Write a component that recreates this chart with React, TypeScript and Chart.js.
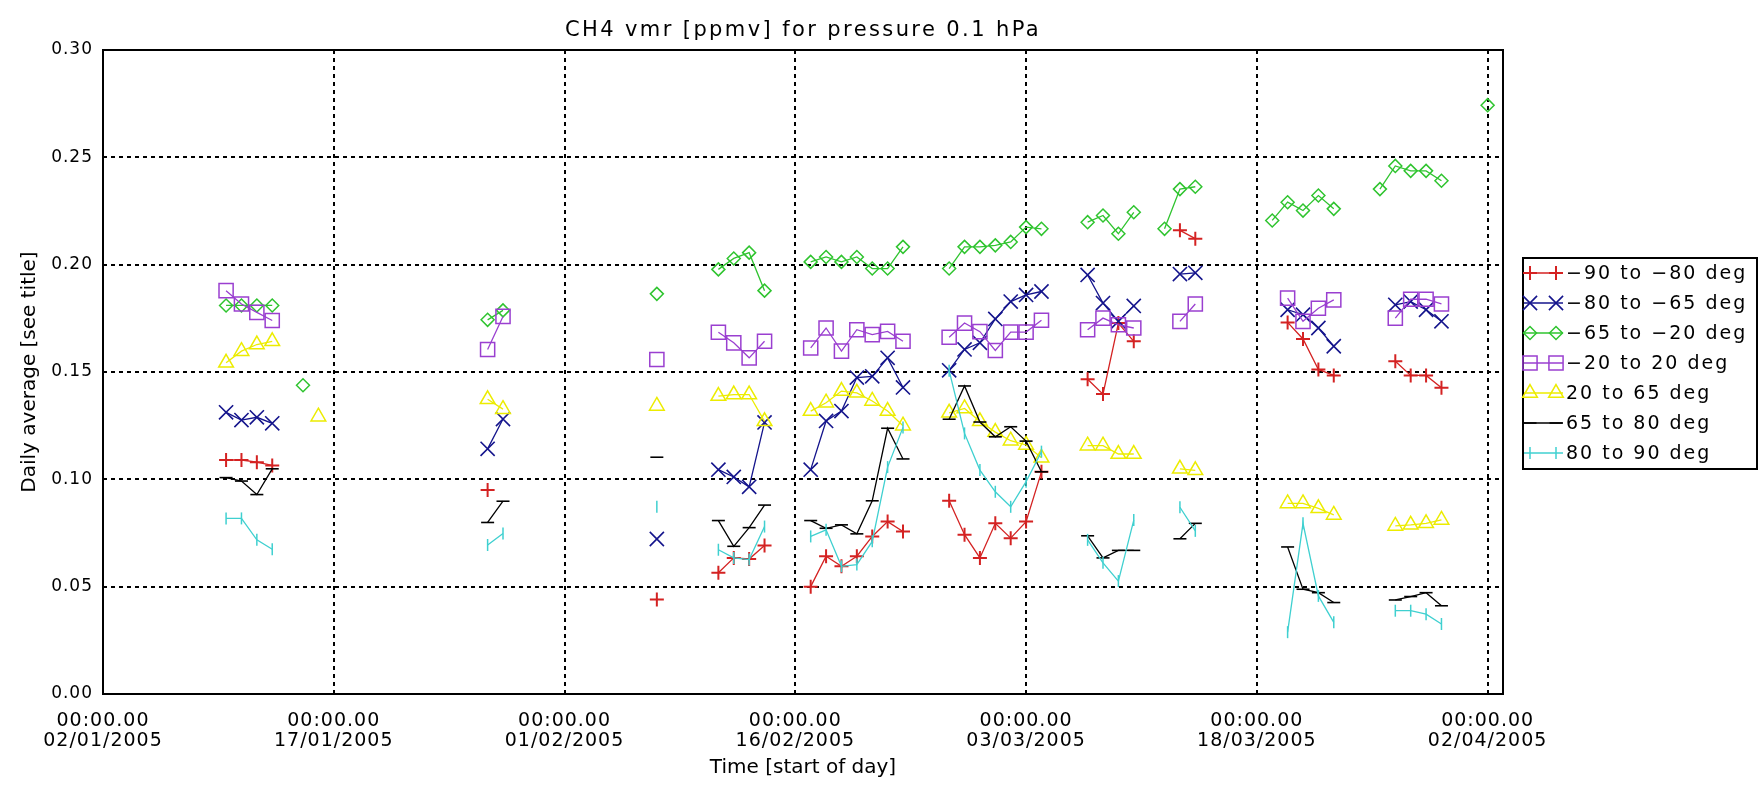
import React, { useEffect, useRef } from 'react';
import { Chart, registerables } from 'chart.js';

Chart.register(...registerables);

const W = 1762;
const H = 787;
const FONT = '"DejaVu Sans", sans-serif';

// ---- axis ticks ----
const xTickDays = [0, 15, 30, 45, 60, 75, 90];
const xTickTime = '00:00.00';
const xTickDates = ['02/01/2005', '17/01/2005', '01/02/2005', '16/02/2005', '03/03/2005', '18/03/2005', '02/04/2005'];
const yTickValues = [0, 0.05, 0.1, 0.15, 0.2, 0.25, 0.3];

const chartTitle = 'CH4 vmr [ppmv] for pressure 0.1 hPa';
const xTitle = 'Time [start of day]';
const yTitle = 'Daily average [see title]';

// ---- series (x = day since 02/01/2005) ----
const redDays = [8, 9, 10, 11, 25, 36, 40, 41, 42, 43, 46, 47, 48, 49, 50, 51, 52, 55, 56, 57, 58, 59, 60, 61, 64, 65, 66, 67, 70, 71, 77, 78, 79, 80, 84, 85, 86, 87];
const redVals = [0.109, 0.109, 0.108, 0.1065, 0.095, 0.044, 0.0565, 0.0634, 0.0629, 0.0692, 0.050, 0.0642, 0.0595, 0.0642, 0.0734, 0.0803, 0.0757, 0.0900, 0.0742, 0.0634, 0.0795, 0.0726, 0.0803, 0.1035, 0.1466, 0.1397, 0.1728, 0.1643, 0.216, 0.2121, 0.1731, 0.1654, 0.1512, 0.1484, 0.155, 0.1484, 0.1484, 0.1427];

const blueDays = [8, 9, 10, 11, 25, 26, 36, 40, 41, 42, 43, 46, 47, 48, 49, 50, 51, 52, 55, 56, 57, 58, 59, 60, 61, 64, 65, 66, 67, 70, 71, 77, 78, 79, 80, 84, 85, 86, 87];
const blueVals = [0.1312, 0.1276, 0.1289, 0.1261, 0.1142, 0.1281, 0.0722, 0.1045, 0.1011, 0.0965, 0.1265, 0.1045, 0.1272, 0.1318, 0.1474, 0.148, 0.1566, 0.1428, 0.1508, 0.1605, 0.1636, 0.1747, 0.1828, 0.1859, 0.1875, 0.1952, 0.1821, 0.1736, 0.1808, 0.1956, 0.1962, 0.179, 0.1767, 0.1705, 0.162, 0.1813, 0.1828, 0.179, 0.1736];

const greenDays = [8, 9, 10, 11, 13, 25, 26, 36, 40, 41, 42, 43, 46, 47, 48, 49, 50, 51, 52, 55, 56, 57, 58, 59, 60, 61, 64, 65, 66, 67, 69, 70, 71, 76, 77, 78, 79, 80, 83, 84, 85, 86, 87, 90];
const greenVals = [0.181, 0.181, 0.181, 0.181, 0.1438, 0.1743, 0.1787, 0.1864, 0.1978, 0.2029, 0.2056, 0.1879, 0.2013, 0.2036, 0.2013, 0.2036, 0.1982, 0.1982, 0.2083, 0.1982, 0.2083, 0.2083, 0.209, 0.2106, 0.2175, 0.2167, 0.2198, 0.2229, 0.2144, 0.2244, 0.2167, 0.2352, 0.2363, 0.2206, 0.2291, 0.2252, 0.2322, 0.226, 0.2352, 0.246, 0.2437, 0.2437, 0.2391, 0.2743];

const purpleDays = [8, 9, 10, 11, 25, 26, 36, 40, 41, 42, 43, 46, 47, 48, 49, 50, 51, 52, 55, 56, 57, 58, 59, 60, 61, 64, 65, 66, 67, 70, 71, 77, 78, 79, 80, 84, 85, 86, 87];
const purpleVals = [0.1879, 0.1817, 0.1778, 0.174, 0.1605, 0.1759, 0.1558, 0.1685, 0.1636, 0.1566, 0.1643, 0.1612, 0.1705, 0.1597, 0.1697, 0.1674, 0.1689, 0.1643, 0.1662, 0.1728, 0.1688, 0.16, 0.1686, 0.1686, 0.1741, 0.1697, 0.1751, 0.172, 0.1705, 0.1736, 0.1817, 0.1844, 0.1736, 0.1797, 0.1836, 0.1751, 0.1839, 0.1839, 0.1817];

const yellowDays = [8, 9, 10, 11, 14, 25, 26, 36, 40, 41, 42, 43, 46, 47, 48, 49, 50, 51, 52, 55, 56, 57, 58, 59, 60, 61, 64, 65, 66, 67, 70, 71, 77, 78, 79, 80, 84, 85, 86, 87];
const yellowVals = [0.1543, 0.1597, 0.1628, 0.1643, 0.1292, 0.1373, 0.1327, 0.1342, 0.1388, 0.1395, 0.1395, 0.127, 0.1318, 0.1357, 0.1411, 0.1403, 0.1365, 0.1318, 0.125, 0.131, 0.133, 0.127, 0.122, 0.118, 0.116, 0.110, 0.1157, 0.1157, 0.1118, 0.1118, 0.1049, 0.1042, 0.0888, 0.0888, 0.0865, 0.0834, 0.0783, 0.0788, 0.0795, 0.0811];

const blackDays = [8, 9, 10, 11, 25, 26, 36, 40, 41, 42, 43, 46, 47, 48, 49, 50, 51, 52, 55, 56, 57, 58, 59, 60, 61, 64, 65, 66, 67, 70, 71, 77, 78, 79, 80, 84, 85, 86, 87];
const blackVals = [0.1008, 0.0992, 0.0929, 0.1049, 0.0799, 0.0898, 0.1103, 0.0808, 0.0688, 0.0775, 0.088, 0.0808, 0.0772, 0.0788, 0.0746, 0.090, 0.1238, 0.1095, 0.128, 0.1435, 0.1267, 0.1198, 0.1245, 0.1178, 0.1035, 0.0737, 0.0634, 0.0669, 0.0669, 0.0723, 0.0795, 0.0685, 0.0488, 0.0472, 0.0426, 0.0438, 0.0454, 0.0472, 0.0411];

const cyanDays = [8, 9, 10, 11, 25, 26, 36, 40, 41, 42, 43, 46, 47, 48, 49, 50, 51, 52, 55, 56, 57, 58, 59, 60, 61, 64, 65, 66, 67, 70, 71, 77, 78, 79, 80, 84, 85, 86, 87];
const cyanVals = [0.0818, 0.0818, 0.0718, 0.0674, 0.0694, 0.0748, 0.0872, 0.0672, 0.0634, 0.0626, 0.078, 0.0734, 0.0765, 0.0595, 0.0603, 0.0711, 0.1057, 0.1242, 0.1506, 0.1214, 0.1043, 0.0942, 0.0872, 0.0989, 0.1129, 0.0718, 0.0611, 0.0526, 0.081, 0.087, 0.076, 0.0288, 0.0795, 0.0457, 0.0334, 0.0388, 0.0388, 0.0372, 0.0326];

const seriesNames = ['\u221290 to \u221280 deg', '\u221280 to \u221265 deg', '\u221265 to \u221220 deg', '\u221220 to 20 deg', '20 to 65 deg', '65 to 80 deg', '80 to 90 deg'];
const seriesDays = [redDays, blueDays, greenDays, purpleDays, yellowDays, blackDays, cyanDays];
const seriesVals = [redVals, blueVals, greenVals, purpleVals, yellowVals, blackVals, cyanVals];

// ---- styles ----
const seriesColors = ['#d42222', '#14148c', '#2fc42f', '#9a3fd0', '#ecec00', '#000000', '#3fd0d0'];
const seriesMarkers = ['cross', 'crossRot', 'rectRot', 'rect', 'triangle', 'line', 'line'];
const markerRadius = [7, 10, 6.5, 10, 8.5, 6.5, 6];
const markerRotation = [0, 0, 0, 0, 0, 0, 90];
const markerWidth = [2, 1.6, 1.5, 1.5, 1.5, 1.6, 1.5];

function toPoints(days: number[], vals: number[]) {
  const pts: { x: number; y: number | null }[] = [];
  days.forEach((d, i) => {
    if (i > 0 && d - days[i - 1] > 1) pts.push({ x: (d + days[i - 1]) / 2, y: null });
    pts.push({ x: d, y: vals[i] });
  });
  return pts;
}

function drawMarker(ctx: CanvasRenderingContext2D, style: string, x: number, y: number, r: number, rot: number) {
  ctx.beginPath();
  const s2 = Math.SQRT1_2 * r;
  if (style === 'cross') {
    ctx.moveTo(x - r, y); ctx.lineTo(x + r, y);
    ctx.moveTo(x, y - r); ctx.lineTo(x, y + r);
  } else if (style === 'crossRot') {
    ctx.moveTo(x - s2, y - s2); ctx.lineTo(x + s2, y + s2);
    ctx.moveTo(x + s2, y - s2); ctx.lineTo(x - s2, y + s2);
  } else if (style === 'rectRot') {
    ctx.moveTo(x - r, y); ctx.lineTo(x, y - r); ctx.lineTo(x + r, y); ctx.lineTo(x, y + r); ctx.closePath();
  } else if (style === 'rect') {
    ctx.rect(x - s2, y - s2, 2 * s2, 2 * s2);
  } else if (style === 'triangle') {
    ctx.moveTo(x, y - r); ctx.lineTo(x + 0.866 * r, y + 0.5 * r); ctx.lineTo(x - 0.866 * r, y + 0.5 * r); ctx.closePath();
  } else if (style === 'line') {
    if (rot === 90) { ctx.moveTo(x, y - r); ctx.lineTo(x, y + r); }
    else { ctx.moveTo(x - r, y); ctx.lineTo(x + r, y); }
  }
  ctx.stroke();
}

const decorPlugin = {
  id: 'idlDecor',
  beforeDraw(chart: any) {
    const ctx = chart.ctx;
    ctx.save();
    ctx.fillStyle = '#ffffff';
    ctx.fillRect(0, 0, chart.width, chart.height);
    ctx.restore();
    (ctx as any).letterSpacing = '1px';
  },
  beforeDatasetsDraw(chart: any) {
    const ctx = chart.ctx;
    (ctx as any).letterSpacing = '0px';
    const { left, right, top, bottom } = chart.chartArea;
    const xs = chart.scales.x;
    const ys = chart.scales.y;
    ctx.save();
    ctx.strokeStyle = '#000';
    ctx.lineWidth = 2;
    ctx.setLineDash([4, 4]);
    yTickValues.forEach((v) => {
      if (v <= 0 || v >= 0.3) return;
      const py = Math.round(ys.getPixelForValue(v));
      ctx.beginPath(); ctx.moveTo(left, py); ctx.lineTo(right, py); ctx.stroke();
    });
    xTickDays.forEach((d) => {
      if (d <= 0) return;
      const px = Math.round(xs.getPixelForValue(d));
      ctx.beginPath(); ctx.moveTo(px, top); ctx.lineTo(px, bottom); ctx.stroke();
    });
    ctx.setLineDash([]);
    ctx.lineWidth = 2;
    ctx.strokeRect(left, top, right - left, bottom - top);
    ctx.restore();
  },
  afterDraw(chart: any) {
    const ctx = chart.ctx;
    const { left, right, top, bottom } = chart.chartArea;
    const midX = (left + right) / 2;
    ctx.save();
    ctx.fillStyle = '#000';
    // title
    (ctx as any).letterSpacing = '2.4px';
    ctx.font = `21px ${FONT}`;
    ctx.textAlign = 'center';
    ctx.textBaseline = 'alphabetic';
    ctx.fillText(chartTitle, midX, 36);
    // x title
    (ctx as any).letterSpacing = '0px';
    ctx.font = `20px ${FONT}`;
    ctx.fillText(xTitle, midX, 773);
    // y title
    ctx.save();
    ctx.translate(30, (top + bottom) / 2);
    ctx.rotate(-Math.PI / 2);
    ctx.textBaseline = 'middle';
    ctx.fillText(yTitle, 0, 0);
    ctx.restore();

    // legend
    const lx = right + 20;
    const ly = 258;
    const lw = 234;
    const rowH = 30;
    const lh = rowH * seriesNames.length + 1;
    ctx.strokeStyle = '#000';
    ctx.lineWidth = 2;
    ctx.strokeRect(lx, ly, lw, lh);
    seriesNames.forEach((name, i) => {
      const y = ly + 15 + i * rowH;
      ctx.strokeStyle = seriesColors[i];
      ctx.lineWidth = 1.3;
      ctx.beginPath(); ctx.moveTo(lx + 1, y); ctx.lineTo(lx + 40, y); ctx.stroke();
      ctx.lineWidth = markerWidth[i];
      drawMarker(ctx, seriesMarkers[i], lx + 7, y, markerRadius[i], markerRotation[i]);
      drawMarker(ctx, seriesMarkers[i], lx + 33, y, markerRadius[i], markerRotation[i]);
      ctx.fillStyle = '#000';
      ctx.font = `19px ${FONT}`;
      (ctx as any).letterSpacing = '2px';
      ctx.textAlign = 'left';
      ctx.textBaseline = 'middle';
      ctx.fillText(name, lx + 43, y + 1);
    });
    ctx.restore();
  },
};

export default function App() {
  const canvasRef = useRef<HTMLCanvasElement | null>(null);

  useEffect(() => {
    if (!canvasRef.current) return;
    const datasets = seriesNames.map((name, i) => ({
      label: name,
      data: toPoints(seriesDays[i], seriesVals[i]),
      borderColor: seriesColors[i],
      backgroundColor: 'transparent',
      borderWidth: 1.3,
      pointStyle: seriesMarkers[i],
      pointRadius: markerRadius[i],
      pointRotation: markerRotation[i],
      pointBorderColor: seriesColors[i],
      pointBackgroundColor: 'transparent',
      pointBorderWidth: markerWidth[i],
      pointHoverRadius: markerRadius[i],
      tension: 0,
      spanGaps: false,
      fill: false,
      order: seriesNames.length - i,
    }));

    const chart = new Chart(canvasRef.current, {
      type: 'line',
      data: { datasets },
      options: {
        responsive: false,
        devicePixelRatio: 1,
        animation: false,
        events: [],
        layout: { padding: { top: 50, right: 259, left: 0, bottom: 0 } },
        plugins: {
          legend: { display: false },
          title: { display: false },
          tooltip: { enabled: false },
        },
        scales: {
          x: {
            type: 'linear',
            min: 0,
            max: 91,
            grid: { display: false, drawTicks: false },
            border: { display: false },
            afterBuildTicks: (s: any) => { s.ticks = xTickDays.map((v) => ({ value: v })); },
            afterFit: (s: any) => { s.height = 93; },
            ticks: {
              autoSkip: false,
              maxRotation: 0,
              minRotation: 0,
              padding: 17,
              color: '#000',
              font: { family: FONT, size: 19, lineHeight: '20px' },
              callback: (v: any) => [xTickTime, xTickDates[xTickDays.indexOf(Number(v))] ?? ''],
            },
          },
          y: {
            type: 'linear',
            min: 0,
            max: 0.3,
            grid: { display: false, drawTicks: false },
            border: { display: false },
            afterBuildTicks: (s: any) => { s.ticks = yTickValues.map((v) => ({ value: v })); },
            afterFit: (s: any) => { s.width = 103; },
            ticks: {
              padding: 10,
              color: '#000',
              font: { family: FONT, size: 17 },
              callback: (v: any) => Number(v).toFixed(2),
            },
          },
        },
      },
      plugins: [decorPlugin],
    } as any);

    return () => chart.destroy();
  }, []);

  return (
    <div style={{ position: 'fixed', left: 0, top: 0, width: W, height: H, background: '#fff' }}>
      <canvas ref={canvasRef} width={W} height={H} style={{ display: 'block', width: W, height: H }} />
    </div>
  );
}
